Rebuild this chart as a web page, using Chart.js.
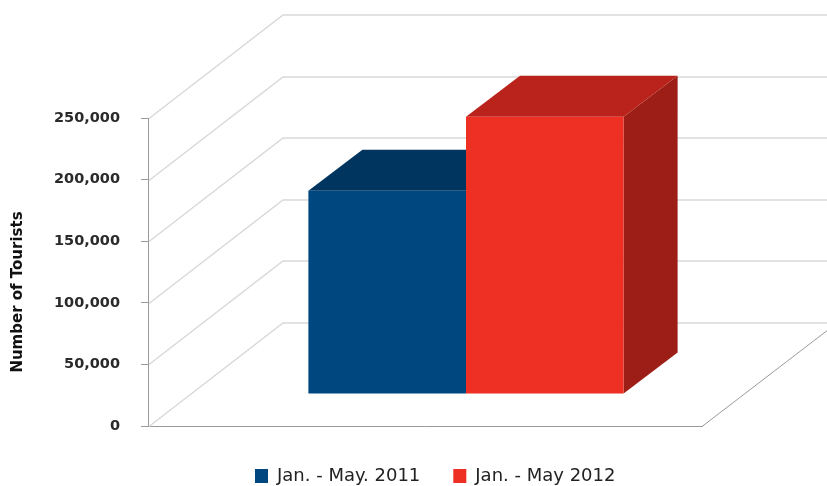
<!DOCTYPE html>
<html>
<head>
<meta charset="utf-8">
<title>Number of Tourists, Jan. - May</title>
<script src="https://cdn.jsdelivr.net/npm/chart.js@4/dist/chart.umd.min.js"></script>
<style>
  html, body { margin: 0; padding: 0; background: #ffffff; }
  #wrap { width: 827px; height: 486px; position: relative; }
</style>
</head>
<body>
<div id="wrap"><canvas id="chart" width="827" height="486"></canvas></div>
<script>
// ---- data ----
const categories = [''];
const seriesNames = ['Jan. - May. 2011', 'Jan. - May 2012'];
const tourists2011 = [165000];
const tourists2012 = [225000];
const yTickValues = [0, 50000, 100000, 150000, 200000, 250000];
const yAxisTitle = 'Number of Tourists';

// ---- look ----
const FONT = '"DejaVu Sans", "Liberation Sans", Arial, sans-serif';
const WALL_DEPTH = { dx: 135, dy: -103.5 };  // floor / side wall depth vector
const BAR_FRONT = { dx: 41, dy: -32 };       // where the bar fronts sit inside the box
const BAR_DEPTH = { dx: 54, dy: -41 };       // thickness of each bar
const SHADES = [
  { front: '#00467f', top: '#00355f', side: '#002a4c' },
  { front: '#ee2f24', top: '#b9231b', side: '#9c1e16' }
];
const LEGEND_LEFT = 255;
const LEGEND_TOP = 434;

// Draws the box walls, the bar extrusions and the rotated axis title.
const boxPlugin = {
  id: 'box3d',
  afterLayout(chart) {
    const lg = chart.legend;
    if (!lg || !lg.lineWidths) return;
    const pad = lg.options.labels.padding;
    const start = (lg.left + pad + lg.right - lg.lineWidths[0]) / 2;
    const sx = LEGEND_LEFT - start;
    lg.left += sx; lg.right += sx;
    const sy = LEGEND_TOP - lg.top;
    lg.top += sy; lg.bottom += sy;
  },
  beforeDatasetsDraw(chart) {
    const { ctx, chartArea: a, scales: { y } } = chart;
    ctx.save();
    // left wall diagonals and back wall grid lines
    ctx.strokeStyle = '#d9d9d9';
    ctx.lineWidth = 1.5;
    y.ticks.forEach(t => {
      const py = Math.round(y.getPixelForValue(t.value)) + 0.5;
      ctx.beginPath();
      ctx.moveTo(a.left + 1, py);
      ctx.lineTo(a.left + WALL_DEPTH.dx, py + WALL_DEPTH.dy);
      ctx.lineTo(a.right + WALL_DEPTH.dx, py + WALL_DEPTH.dy);
      ctx.stroke();
    });
    // right edge of the floor
    const y0 = Math.round(y.getPixelForValue(0)) + 0.5;
    ctx.strokeStyle = '#9a9a9a';
    ctx.lineWidth = 1;
    ctx.beginPath();
    ctx.moveTo(a.right, y0);
    ctx.lineTo(a.right + WALL_DEPTH.dx, y0 + WALL_DEPTH.dy);
    ctx.stroke();
    ctx.restore();

    // bars are drawn on a plane set back inside the box
    ctx.save();
    ctx.translate(BAR_FRONT.dx, BAR_FRONT.dy);
    // extrusions of every bar go behind all the front faces
    const bx = BAR_DEPTH.dx, by = BAR_DEPTH.dy;
    chart.data.datasets.forEach((ds, i) => {
      const shade = SHADES[i];
      chart.getDatasetMeta(i).data.forEach(bar => {
        const { x, y: top, base, width } = bar.getProps(['x', 'y', 'base', 'width'], true);
        const l = x - width / 2, r = x + width / 2;
        ctx.fillStyle = shade.side;
        ctx.beginPath();
        ctx.moveTo(r, top); ctx.lineTo(r + bx, top + by);
        ctx.lineTo(r + bx, base + by); ctx.lineTo(r, base);
        ctx.closePath(); ctx.fill();
        ctx.fillStyle = shade.top;
        ctx.beginPath();
        ctx.moveTo(l, top); ctx.lineTo(l + bx, top + by);
        ctx.lineTo(r + bx, top + by); ctx.lineTo(r, top);
        ctx.closePath(); ctx.fill();
      });
    });
  },
  afterDatasetsDraw(chart) {
    chart.ctx.restore();
  },
  afterDraw(chart) {
    const ctx = chart.ctx;
    ctx.save();
    ctx.translate(18, 292);
    ctx.rotate(-Math.PI / 2);
    ctx.font = 'bold 15px ' + FONT;
    ctx.fillStyle = '#111111';
    ctx.textAlign = 'center';
    ctx.textBaseline = 'middle';
    ctx.fillText(yAxisTitle, 0, 0);
    ctx.restore();
  }
};

new Chart(document.getElementById('chart'), {
  type: 'bar',
  data: {
    labels: categories,
    datasets: [
      { label: seriesNames[0], data: tourists2011, backgroundColor: SHADES[0].front, borderWidth: 0 },
      { label: seriesNames[1], data: tourists2012, backgroundColor: SHADES[1].front, borderWidth: 0 }
    ]
  },
  options: {
    responsive: false,
    animation: false,
    events: [],
    devicePixelRatio: 1,
    layout: { padding: { top: 118, right: 125, bottom: 0, left: 0 } },
    datasets: { bar: { barPercentage: 1.0, categoryPercentage: 0.569, clip: false } },
    scales: {
      x: {
        type: 'category',
        ticks: { display: false },
        grid: { display: false },
        border: { display: true, color: '#9a9a9a', width: 1 },
        afterFit(s) { s.height = 0; }
      },
      y: {
        position: 'left',
        min: 0,
        max: 250000,
        afterBuildTicks(s) { s.ticks = yTickValues.map(v => ({ value: v })); },
        ticks: {
          padding: 21,
          color: '#2a2a2a',
          font: { family: FONT, size: 14.5, weight: 'bold' },
          callback: v => Number(v).toLocaleString('en-US')
        },
        grid: { drawOnChartArea: false, drawTicks: true, tickLength: 7, color: '#9a9a9a' },
        border: { display: true, color: '#9a9a9a', width: 1 },
        afterFit(s) { s.width = 148; }
      }
    },
    plugins: {
      legend: {
        position: 'bottom',
        maxHeight: 60,
        labels: {
          boxWidth: 13,
          boxHeight: 14,
          padding: 33,
          color: '#222222',
          font: { family: FONT, size: 18 }
        }
      },
      tooltip: { enabled: false },
      title: { display: false }
    }
  },
  plugins: [boxPlugin]
});
</script>
</body>
</html>
